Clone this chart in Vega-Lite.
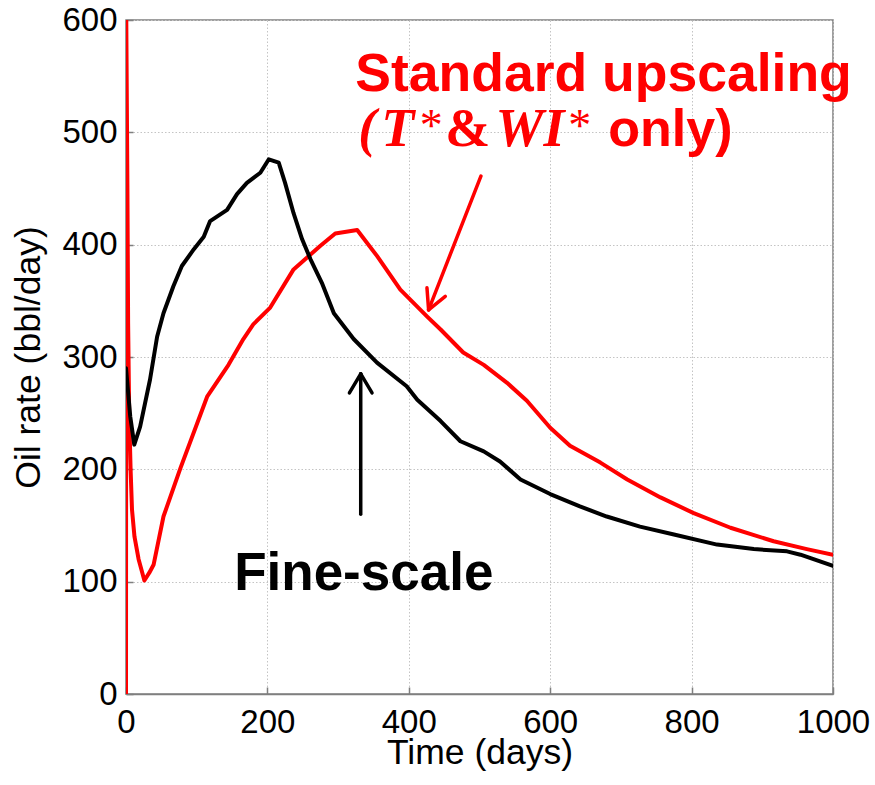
{
  "$schema": "https://vega.github.io/schema/vega-lite/v6.json",
  "width": 707,
  "height": 674,
  "autosize": {"type": "none"},
  "padding": {"left": 126, "top": 20, "right": 42, "bottom": 91},
  "background": "white",
  "config": {
    "view": {"stroke": "#7f7f7f", "strokeWidth": 1.5},
    "axis": {
      "domainColor": "#7f7f7f",
      "domainWidth": 1.5,
      "gridColor": "#c4c4c4",
      "gridDash": [1.5, 2],
      "gridWidth": 1,
      "tickColor": "#7f7f7f",
      "tickSize": -7,
      "tickWidth": 1.5,
      "labelFont": "Liberation Sans",
      "labelFontSize": 33,
      "labelColor": "black",
      "titleFont": "Liberation Sans",
      "titleFontSize": 35.5,
      "titleFontWeight": "normal",
      "titleColor": "black"
    }
  },
  "datasets": {
    "fine": [
      {"t": 0, "v": 290}, {"t": 1.4, "v": 280}, {"t": 6, "v": 247}, {"t": 11.7, "v": 222},
      {"t": 20, "v": 238}, {"t": 34, "v": 280}, {"t": 44, "v": 318}, {"t": 53, "v": 339},
      {"t": 67, "v": 363}, {"t": 79, "v": 381}, {"t": 96, "v": 396}, {"t": 110, "v": 407},
      {"t": 119, "v": 421}, {"t": 143, "v": 431}, {"t": 157, "v": 445}, {"t": 171, "v": 455},
      {"t": 190, "v": 464}, {"t": 202, "v": 476}, {"t": 216, "v": 473}, {"t": 225, "v": 455},
      {"t": 237, "v": 428}, {"t": 249, "v": 405}, {"t": 261, "v": 387}, {"t": 277, "v": 366},
      {"t": 294, "v": 339}, {"t": 322, "v": 316}, {"t": 355, "v": 295}, {"t": 397, "v": 274},
      {"t": 412, "v": 262}, {"t": 445, "v": 243}, {"t": 473, "v": 225}, {"t": 506, "v": 216},
      {"t": 529, "v": 207}, {"t": 558, "v": 191}, {"t": 600, "v": 178}, {"t": 642, "v": 167},
      {"t": 680, "v": 158}, {"t": 727, "v": 149}, {"t": 775, "v": 142}, {"t": 836, "v": 133},
      {"t": 888, "v": 129}, {"t": 935, "v": 127}, {"t": 954, "v": 124}, {"t": 1000, "v": 114}
    ],
    "upscaled": [
      {"t": 0, "v": 0}, {"t": 0.4, "v": 600}, {"t": 2, "v": 450}, {"t": 3, "v": 330},
      {"t": 4.5, "v": 250}, {"t": 6.5, "v": 200}, {"t": 8.5, "v": 164}, {"t": 12, "v": 140},
      {"t": 17.8, "v": 120}, {"t": 26, "v": 101}, {"t": 33, "v": 108}, {"t": 39, "v": 115},
      {"t": 53, "v": 158}, {"t": 77, "v": 201}, {"t": 115, "v": 265}, {"t": 145, "v": 293},
      {"t": 166, "v": 316}, {"t": 180, "v": 329}, {"t": 204, "v": 344}, {"t": 237, "v": 378},
      {"t": 275, "v": 399}, {"t": 296, "v": 410}, {"t": 327, "v": 413}, {"t": 355, "v": 390},
      {"t": 388, "v": 360}, {"t": 426, "v": 336}, {"t": 445, "v": 324.5}, {"t": 477, "v": 304},
      {"t": 506, "v": 293}, {"t": 539, "v": 277}, {"t": 567, "v": 261}, {"t": 600, "v": 237},
      {"t": 628, "v": 221}, {"t": 671, "v": 206}, {"t": 709, "v": 191}, {"t": 756, "v": 175},
      {"t": 803, "v": 161}, {"t": 855, "v": 148}, {"t": 916, "v": 136}, {"t": 963, "v": 129},
      {"t": 1000, "v": 124}
    ],
    "arrows": [
      {"arrow": "red", "t": 502, "v": 461, "t2": 428, "v2": 342},
      {"arrow": "red", "t": 428, "v": 342, "t2": 425.7, "v2": 361.6},
      {"arrow": "red", "t": 428, "v": 342, "t2": 451.6, "v2": 354},
      {"arrow": "black", "t": 332, "v": 160, "t2": 332, "v2": 285},
      {"arrow": "black", "t": 332, "v": 285, "t2": 316, "v2": 268},
      {"arrow": "black", "t": 332, "v": 285, "t2": 348, "v2": 268}
    ]
  },
  "layer": [
    {
      "data": {"name": "upscaled"},
      "mark": {"type": "line", "color": "#ff0000", "strokeWidth": 4, "strokeJoin": "round", "strokeCap": "round", "clip": true},
      "encoding": {
        "x": {"field": "t", "type": "quantitative", "scale": {"domain": [0, 1000], "nice": false},
              "axis": {"title": "Time (days)", "values": [0, 200, 400, 600, 800, 1000], "format": "d", "labelPadding": 19, "titlePadding": -4, "labelFlush": false}},
        "y": {"field": "v", "type": "quantitative", "scale": {"domain": [0, 600], "nice": false},
              "axis": {"title": "Oil rate (bbl/day)", "values": [0, 100, 200, 300, 400, 500, 600], "format": "d", "labelPadding": 16, "titlePadding": 15}}
      }
    },
    {
      "data": {"name": "fine"},
      "mark": {"type": "line", "color": "#000000", "strokeWidth": 4, "strokeJoin": "round", "strokeCap": "round", "clip": true},
      "encoding": {
        "x": {"field": "t", "type": "quantitative"},
        "y": {"field": "v", "type": "quantitative"}
      }
    },
    {
      "data": {"name": "arrows"},
      "mark": {"type": "rule", "strokeWidth": 3.5, "strokeCap": "round"},
      "encoding": {
        "x": {"field": "t", "type": "quantitative"},
        "y": {"field": "v", "type": "quantitative"},
        "x2": {"field": "t2"},
        "y2": {"field": "v2"},
        "color": {"field": "arrow", "type": "nominal", "scale": {"domain": ["red", "black"], "range": ["#ff0000", "#000000"]}, "legend": null}
      }
    },
    {
      "data": {"values": [
        {"label": "Standard upscaling", "t": 324.4, "v": 536.4}
      ]},
      "mark": {"type": "text", "font": "Liberation Sans", "fontWeight": "bold", "fontSize": 53.5, "color": "#ff0000", "align": "left", "baseline": "alphabetic"},
      "encoding": {
        "x": {"field": "t", "type": "quantitative"},
        "y": {"field": "v", "type": "quantitative"},
        "text": {"field": "label"}
      }
    },
    {
      "data": {"values": [
        {"label": "only)", "t": 682.2, "v": 487.4}
      ]},
      "mark": {"type": "text", "font": "Liberation Sans", "fontWeight": "bold", "fontSize": 52, "color": "#ff0000", "align": "left", "baseline": "alphabetic"},
      "encoding": {
        "x": {"field": "t", "type": "quantitative"},
        "y": {"field": "v", "type": "quantitative"},
        "text": {"field": "label"}
      }
    },
    {
      "data": {"values": [
        {"label": "(", "t": 328.6, "v": 487.4},
        {"label": "T", "t": 361, "v": 487.4},
        {"label": "WI", "t": 522.5, "v": 487.4}
      ]},
      "mark": {"type": "text", "font": "Liberation Serif", "fontWeight": "bold", "fontStyle": "italic", "fontSize": 54, "color": "#ff0000", "align": "left", "baseline": "alphabetic"},
      "encoding": {
        "x": {"field": "t", "type": "quantitative"},
        "y": {"field": "v", "type": "quantitative"},
        "text": {"field": "label"}
      }
    },
    {
      "data": {"values": [
        {"label": "&", "t": 451.6, "v": 487.4}
      ]},
      "mark": {"type": "text", "font": "Liberation Serif", "fontWeight": "bold", "fontSize": 54, "color": "#ff0000", "align": "left", "baseline": "alphabetic"},
      "encoding": {
        "x": {"field": "t", "type": "quantitative"},
        "y": {"field": "v", "type": "quantitative"},
        "text": {"field": "label"}
      }
    },
    {
      "data": {"values": [
        {"label": "*", "t": 415.5, "v": 492},
        {"label": "*", "t": 625.5, "v": 492}
      ]},
      "mark": {"type": "text", "font": "Liberation Serif", "fontSize": 46, "color": "#ff0000", "align": "left", "baseline": "alphabetic"},
      "encoding": {
        "x": {"field": "t", "type": "quantitative"},
        "y": {"field": "v", "type": "quantitative"},
        "text": {"field": "label"}
      }
    },
    {
      "data": {"values": [
        {"label": "Fine-scale", "t": 153, "v": 93}
      ]},
      "mark": {"type": "text", "font": "Liberation Sans", "fontWeight": "bold", "fontSize": 53, "color": "#000000", "align": "left", "baseline": "alphabetic"},
      "encoding": {
        "x": {"field": "t", "type": "quantitative"},
        "y": {"field": "v", "type": "quantitative"},
        "text": {"field": "label"}
      }
    }
  ]
}
